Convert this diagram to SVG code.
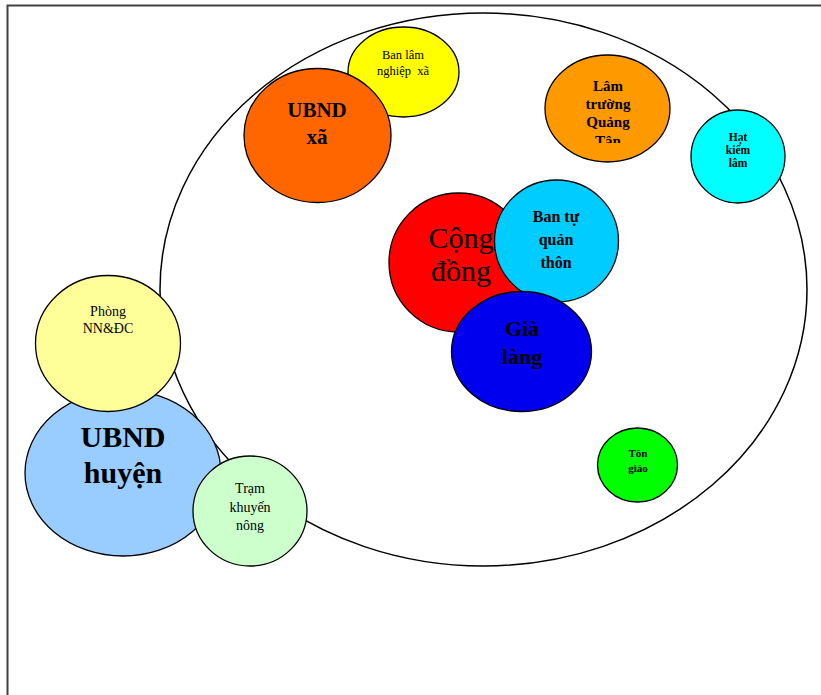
<svg xmlns="http://www.w3.org/2000/svg" width="821" height="695" viewBox="0 0 821 695">
<style>
.n{stroke:#000;stroke-width:1.3}
text{font-family:"Liberation Serif","Times New Roman",serif;fill:#000;text-anchor:middle;white-space:pre}
.b{font-weight:bold}
</style>
<defs>
<clipPath id="clipLT"><rect x="540" y="50" width="140" height="93"/></clipPath>
</defs>
<rect x="0" y="0" width="821" height="695" fill="#fff"/>
<path d="M7.5 695 V5.5 H821" fill="none" stroke="#404040" stroke-width="2"/>
<g id="connectors">
<ellipse cx="483.5" cy="289.5" rx="323.5" ry="276.5" fill="none" stroke="#000" stroke-width="1.5"/>
</g>
<g id="ban-lam-nghiep-xa">
<ellipse class="n" cx="403.5" cy="72" rx="55.5" ry="45" fill="#FFFF00"/>
<text x="403" y="59" font-size="12.5">Ban lâm</text>
<text x="403" y="75" font-size="12.5" xml:space="preserve">nghiệp  xã</text>
</g>
<g id="ubnd-xa">
<ellipse class="n" cx="317.5" cy="135.5" rx="73.5" ry="67" fill="#FF6600"/>
<text class="b" x="317" y="117" font-size="21">UBND</text>
<text class="b" x="317" y="144" font-size="21">xã</text>
</g>
<g id="lam-truong">
<ellipse class="n" cx="607.5" cy="108.5" rx="62.5" ry="53.5" fill="#FF9900"/>
<g clip-path="url(#clipLT)">
<text class="b" x="608" y="91" font-size="15">Lâm</text>
<text class="b" x="608" y="109" font-size="15">trường</text>
<text class="b" x="608" y="127" font-size="15">Quảng</text>
<text class="b" x="608" y="146" font-size="15">Tân</text>
</g>
</g>
<g id="hat-kiem-lam">
<ellipse class="n" cx="738" cy="156.5" rx="47" ry="46.5" fill="#00FFFF"/>
<text class="b" x="738" y="141" font-size="11.5">Hạt</text>
<text class="b" x="738" y="154" font-size="11.5">kiểm</text>
<text class="b" x="738" y="167" font-size="11.5">lâm</text>
</g>
<g id="cong-dong">
<ellipse class="n" cx="458.5" cy="262.5" rx="69.5" ry="69.5" fill="#FF0000"/>
<text x="461" y="248" font-size="30">Cộng</text>
<text x="461" y="281" font-size="30">đồng</text>
</g>
<g id="ban-tu-quan-thon">
<ellipse class="n" cx="556.5" cy="241" rx="62" ry="61" fill="#00CCFF"/>
<text class="b" x="556" y="222" font-size="16">Ban tự</text>
<text class="b" x="556" y="245" font-size="16">quản</text>
<text class="b" x="556" y="268" font-size="16">thôn</text>
</g>
<g id="gia-lang">
<ellipse class="n" cx="521.5" cy="351.5" rx="70" ry="60" fill="#0000EE"/>
<text class="b" x="522" y="336" font-size="22">Già</text>
<text class="b" x="522" y="364" font-size="22">làng</text>
</g>
<g id="ton-giao">
<ellipse class="n" cx="637.5" cy="465" rx="40" ry="37" fill="#00FF00"/>
<text class="b" x="638" y="457" font-size="11">Tôn</text>
<text class="b" x="638" y="472" font-size="11">giáo</text>
</g>
<g id="ubnd-huyen">
<ellipse class="n" cx="123" cy="473" rx="98" ry="83" fill="#99CCFF"/>
<text class="b" x="123" y="447" font-size="30">UBND</text>
<text class="b" x="123" y="483" font-size="30">huyện</text>
</g>
<g id="phong-nn-dc">
<ellipse class="n" cx="108" cy="343.5" rx="72.5" ry="68" fill="#FFFF99"/>
<text x="108" y="316" font-size="14">Phòng</text>
<text x="108" y="333" font-size="14">NN&amp;ĐC</text>
</g>
<g id="tram-khuyen-nong">
<ellipse class="n" cx="250" cy="511" rx="57" ry="55" fill="#CCFFCC"/>
<text x="250" y="493" font-size="14">Trạm</text>
<text x="250" y="512" font-size="14">khuyến</text>
<text x="250" y="530" font-size="14">nông</text>
</g>
</svg>
